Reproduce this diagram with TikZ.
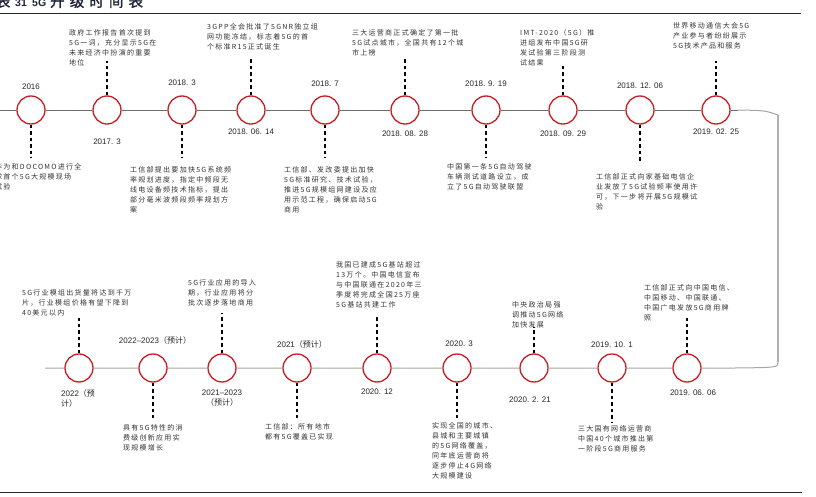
\documentclass[tikz,border=0pt]{standalone}
\usepackage{fontspec}
\setmainfont{Liberation Sans}
\newfontfamily\cjk[LetterSpace=18]{Noto Sans CJK SC}
\newfontfamily\cjkplain{Noto Sans CJK SC}
\newfontfamily\titlecjk[LetterSpace=35,FakeBold=1.5]{Noto Sans CJK SC}
\newfontfamily\titlelat{Liberation Sans}
\definecolor{evred}{RGB}{200,30,35}
\definecolor{tlup}{RGB}{110,110,110}
\definecolor{tllo}{RGB}{165,165,165}
\definecolor{txt}{RGB}{50,50,50}
\definecolor{titlec}{RGB}{30,35,55}
\begin{document}
\begin{tikzpicture}[x=1pt,y=-1pt,
 ev/.style={circle,draw=evred,line width=1.3pt,fill=white,minimum size=28pt,inner sep=0pt},
 dt/.style={inner sep=0pt,font=\fontsize{8}{10}\selectfont,text=black!85},
 ds/.style={inner sep=0pt,anchor=north west,align=left,font=\cjk\fontsize{7}{10}\selectfont,text=txt},
 ttc/.style={anchor=base west,inner sep=0pt,text=titlec,font=\titlecjk\fontsize{14.5}{15}\selectfont},
 ttl/.style={anchor=base west,inner sep=0pt,text=titlec,font=\titlelat\bfseries\fontsize{10.5}{12}\selectfont},
 dl/.style={line width=1.5pt,dash pattern=on 3.5pt off 3pt},
 tlu/.style={draw=tlup,line width=0.9pt},
 tll/.style={draw=tllo,line width=1pt},
 tlv/.style={draw=tllo!85,line width=1.4pt},
 rule/.style={draw=black!85,line width=0.9pt}]
\useasboundingbox (0,0) rectangle (816,497);
\clip (0,0) rectangle (816,497);

% title and rules
\node[ttc] (title1) at (-24,6.8) {图表};
\node[ttl] (title2) at (15,6.8) {31};
\node[ttl] (title3) at (32,6.8) {5G};
\node[ttc] (title4) at (50,6.8) {升级时间表};
\coordinate (rt1) at (0,13);
\coordinate (rt2) at (801,13);
\coordinate (rb1) at (0,492);
\coordinate (rb2) at (802,492);
\draw[rule] (rt1) -- (rt2);
\draw[rule,line width=1pt] (rb1) -- (rb2);

% upper events
\node[ev] (u1) at (31,110) {};
\node[ev] (u2) at (107,110) {};
\node[ev] (u3) at (182,110) {};
\node[ev] (u4) at (251,110) {};
\node[ev] (u5) at (325,110) {};
\node[ev] (u6) at (405,110) {};
\node[ev] (u7) at (486,110) {};
\node[ev] (u8) at (563,110) {};
\node[ev] (u9) at (640,110) {};
\node[ev] (u10) at (716,110) {};

% lower events
\node[ev] (l1) at (79,368) {};
\node[ev] (l2) at (153,368) {};
\node[ev] (l3) at (222,368) {};
\node[ev] (l4) at (297,368) {};
\node[ev] (l5) at (377,368) {};
\node[ev] (l6) at (457,368) {};
\node[ev] (l7) at (534,368) {};
\node[ev] (l8) at (612,368) {};
\node[ev] (l9) at (687,368) {};

% timeline
\coordinate (ustart) at (0,110);
\coordinate (tr1) at (738,110);
\coordinate (tr2) at (778,115);
\coordinate (br1) at (778,362);
\coordinate (br2) at (735,368);
\coordinate (lstart) at (45,368);
\draw[tlu] (ustart) -- (u1) -- (u2) -- (u3) -- (u4) -- (u5) -- (u6) -- (u7) -- (u8) -- (u9) -- (u10) -- (tr1);
\draw[tll] (tr1) .. controls (765,110.5) .. (tr2);
\draw[tlv] (tr2) -- (br1);
\draw[tll] (br1) .. controls (778,367.5) .. (br2) -- (l9) -- (l8) -- (l7) -- (l6) -- (l5) -- (l4) -- (l3) -- (l2) -- (l1) -- (lstart);

% upper dates
\node[dt] (ud1) at (31,87) {2016};
\node[dt] (ud2) at (107,142) {2017. 3};
\node[dt] (ud3) at (182,83) {2018. 3};
\node[dt] (ud4) at (251,132) {2018. 06. 14};
\node[dt] (ud5) at (325,84) {2018. 7};
\node[dt] (ud6) at (405,134) {2018. 08. 28};
\node[dt] (ud7) at (486,84) {2018. 9. 19};
\node[dt] (ud8) at (563,134) {2018. 09. 29};
\node[dt] (ud9) at (640,86) {2018. 12. 06};
\node[dt] (ud10) at (716,132) {2019. 02. 25};

% lower dates
\node[dt,anchor=north west,align=left] (ld1) at (61,389) {2022{\cjkplain（预}\\{\cjkplain 计）}};
\node[dt] (ld2) at (155,340) {2022–2023{\cjkplain（预计）}};
\node[dt,align=center] (ld3) at (222,398.5) {2021–2023\\{\cjkplain（预计）}};
\node[dt] (ld4) at (302,344) {2021{\cjkplain（预计）}};
\node[dt] (ld5) at (377,392) {2020. 12};
\node[dt] (ld6) at (459,344) {2020. 3};
\node[dt] (ld7) at (530,400) {2020. 2. 21};
\node[dt] (ld8) at (612,345) {2019. 10. 1};
\node[dt] (ld9) at (693,393) {2019. 06. 06};

% upper descriptions
\node[ds] (ut1) at (-5,163.3) {华为和DOCOMO进行全\\球首个5G大规模现场\\试验};
\node[ds] (ut2) at (69,29.3) {政府工作报告首次提到\\5G一词，充分显示5G在\\未来经济中扮演的重要\\地位};
\node[ds] (ut3) at (130,166.3) {工信部提出要加快5G系统频\\率规划进度，指定中频段无\\线电设备频技术指标，提出\\部分毫米波频段频率规划方\\案};
\node[ds] (ut4) at (207,23.3) {3GPP全会批准了5GNR独立组\\网功能冻结，标志着5G的首\\个标准R15正式诞生};
\node[ds] (ut5) at (284,166.3) {工信部、发改委提出加快\\5G标准研究、技术试验，\\推进5G规模组网建设及应\\用示范工程，确保启动5G\\商用};
\node[ds] (ut6) at (352,29.3) {三大运营商正式确定了第一批\\5G试点城市，全国共有12个城\\市上榜};
\node[ds] (ut7) at (447,163.3) {中国第一条5G自动驾驶\\车辆测试道路设立，成\\立了5G自动驾驶联盟};
\node[ds] (ut8) at (520,29.3) {IMT-2020（5G）推\\进组发布中国5G研\\发试验第三阶段测\\试结果};
\node[ds] (ut9) at (596,173.3) {工信部正式向家基础电信企\\业发放了5G试验频率使用许\\可，下一步将开展5G规模试\\验};
\node[ds] (ut10) at (673,22.3) {世界移动通信大会5G\\产业参与者纷纷展示\\5G技术产品和服务};

% lower descriptions
\node[ds] (lt1) at (22,289.3) {5G行业模组出货量将达到千万\\片，行业模组价格有望下降到\\40美元以内};
\node[ds] (lt2) at (123,424.3) {具有5G特性的消\\费级创新应用实\\现规模增长};
\node[ds] (lt3) at (188,279.3) {5G行业应用的导入\\期，行业应用将分\\批次逐步落地商用};
\node[ds] (lt4) at (265,423.3) {工信部：所有地市\\都有5G覆盖已实现};
\node[ds] (lt5) at (336,261.3) {我国已建成5G基站超过\\13万个。中国电信宣布\\与中国联通在2020年三\\季度将完成全国25万座\\5G基站共建工作};
\node[ds] (lt6) at (432,422.3) {实现全国的城市、\\县城和主要城镇\\的5G网络覆盖，\\同年底运营商将\\逐步停止4G网络\\大规模建设};
\node[ds] (lt7) at (512,301.3) {中央政治局强\\调推动5G网络\\加快发展};
\node[ds] (lt8) at (578,425.3) {三大国有网络运营商\\中国40个城市推出第\\一阶段5G商用服务};
\node[ds] (lt9) at (644,284.3) {工信部正式向中国电信、\\中国移动、中国联通、\\中国广电发放5G商用牌\\照};

% dashed leaders, upper
\coordinate (ue1) at (31,158);
\coordinate (ue2) at (107,61);
\coordinate (ue3) at (182,158);
\coordinate (ue4) at (251,58);
\coordinate (ue5) at (325,158);
\coordinate (ue6) at (405,57);
\coordinate (ue7) at (486,158);
\coordinate (ue8) at (563,66);
\coordinate (ue9) at (640,163);
\coordinate (ue10) at (716,61);
\foreach \i in {1,...,10} {\draw[dl] (u\i) -- (ue\i);}

% dashed leaders, lower
\coordinate (le1) at (79,318);
\coordinate (le2) at (153,418);
\coordinate (le3) at (222,313);
\coordinate (le4) at (297,418);
\coordinate (le5) at (377,317);
\coordinate (le6) at (457,418);
\coordinate (le7) at (534,327);
\coordinate (le8) at (612,422);
\coordinate (le9) at (687,318);
\foreach \i in {1,...,9} {\draw[dl] (l\i) -- (le\i);}
\end{tikzpicture}
\end{document}
